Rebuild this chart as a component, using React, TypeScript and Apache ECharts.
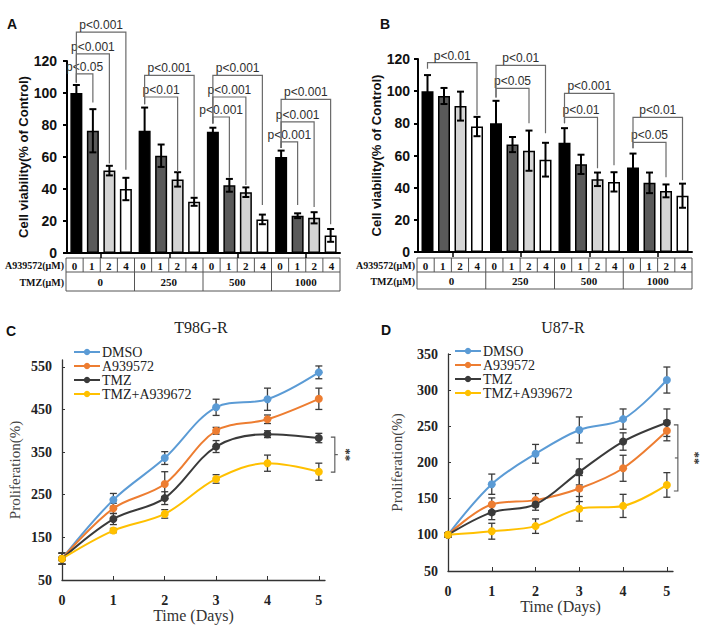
import React, { useEffect, useRef } from "react";
import * as echarts from "echarts";

// ---------- Data ----------
const tmzGroups = ["0", "250", "500", "1000"];
const a9Doses = ["0", "1", "2", "4"];
const barColors = ["#000000", "#5a5a5a", "#d4d4d4", "#ffffff"];

// Panel A (per A939572 dose, across TMZ groups)
const aDose0 = [100, 76.4, 75.8, 60];
const aDose1 = [76.4, 60.8, 42.3, 23.3];
const aDose2 = [51.5, 46, 38, 22];
const aDose4 = [40, 32, 21, 11];
const aErr0 = [5, 14.5, 2.5, 4];
const aErr1 = [13.5, 7, 4, 1.5];
const aErr2 = [3, 4.5, 3, 3.5];
const aErr4 = [7, 2.5, 3, 4];

// Panel B
const bDose0 = [100, 80, 68, 52.5];
const bDose1 = [97, 66.8, 54.5, 43];
const bDose2 = [90.7, 63, 45.2, 38];
const bDose4 = [78, 57.4, 43.6, 35];
const bErr0 = [10, 14, 9, 8.7];
const bErr1 = [5, 4.7, 6, 6.4];
const bErr2 = [9, 12.5, 4.2, 4];
const bErr4 = [6, 10.5, 6, 7.5];

// Significance brackets: [group, rightBar, bracketValue, leftLegBottom, rightLegBottom]
const aBrackets = [
  [0, 1, 112, 106.5, 94],
  [0, 2, 124.4, 106.5, 56],
  [0, 3, 138, 106.5, 52],
  [1, 2, 97.5, 93, 50.6],
  [1, 3, 111, 93, 35],
  [2, 1, 85, 81, 47],
  [2, 2, 97.5, 81, 42.5],
  [2, 3, 111, 81, 30],
  [3, 1, 69.4, 65.6, 30],
  [3, 2, 82, 65.6, 28.7],
  [3, 3, 96, 65.6, 18],
];
const aBracketLabels = ["p<0.05", "p<0.001", "p<0.001", "p<0.01", "p<0.001", "p<0.001", "p<0.001", "p<0.001", "p<0.001", "p<0.001", "p<0.001"];
const bBrackets = [
  [0, 3, 117.8, 114, 85],
  [1, 2, 101.7, 96, 80],
  [1, 3, 116, 96, 73.8],
  [2, 2, 83.7, 80, 52],
  [2, 3, 98.6, 80, 54],
  [3, 2, 68.2, 64.5, 46.5],
  [3, 3, 83.7, 64.5, 44.6],
];
const bBracketLabels = ["p<0.01", "p<0.05", "p<0.01", "p<0.01", "p<0.001", "p<0.05", "p<0.01"];

// Proliferation curves
const days = [0, 1, 2, 3, 4, 5];
const lineNames = ["DMSO", "A939572", "TMZ", "TMZ+A939672"];
const lineColors = ["#5B9BD5", "#ED7D31", "#3a3a3a", "#FFC000"];

const cDmso = [100, 238, 336, 455, 474, 537];
const cA939 = [100, 218, 275, 400, 427, 475];
const cTmz = [100, 193, 242, 363, 392, 383];
const cCombo = [100, 166, 205, 287, 324, 304];
const cDmsoErr = [13, 15, 15, 19, 26, 15];
const cA939Err = [13, 12, 29, 8, 10, 25];
const cTmzErr = [13, 13, 15, 14, 8, 11];
const cComboErr = [13, 5, 10, 10, 19, 20];

const dDmso = [100, 170, 212, 245, 260, 314];
const dA939 = [100, 142, 148, 164, 192, 244];
const dTmz = [100, 131, 142, 187, 229, 255];
const dCombo = [100, 105, 112, 136, 140, 169];
const dDmsoErr = [3, 14, 13, 18, 14, 18];
const dA939Err = [3, 9, 9, 18, 18, 14];
const dTmzErr = [3, 10, 8, 18, 12, 19];
const dComboErr = [3, 11, 10, 17, 16, 17];

// significance at day 5: [day, top, bottom]
const cSig = [[5, 385, 303]];
const dSig = [[5, 252, 160.6]];

const yTicksBar = [0, 20, 40, 60, 80, 100, 120];
const yTicksC = [50, 150, 250, 350, 450, 550];
const yTicksD = [50, 100, 150, 200, 250, 300, 350];

// ---------- Layout ----------
const gA = { left: 67, top: 61, width: 273, height: 192 };
const gB = { left: 418, top: 59, width: 274, height: 193 };
const gC = { left: 62, top: 360, width: 263, height: 220 };
const gD = { left: 448, top: 354, width: 225, height: 217 };

const SANS = '"Liberation Sans", Arial, Helvetica, sans-serif';
const SERIF = '"Liberation Serif", "Times New Roman", serif';
const BAR_W = 12;
const BAR_STEP = 16.5;

function barErrRender(params: any, api: any) {
  const cat = api.value(0), bi = api.value(1), v = api.value(2), e = api.value(3);
  const c = api.coord([cat, v]);
  const x = c[0] + (bi - 1.5) * BAR_STEP;
  const yT = api.coord([cat, v + e])[1];
  const yB = api.coord([cat, v - e])[1];
  const cw = 3.5;
  const st = { stroke: "#000", lineWidth: 2 };
  return {
    type: "group",
    children: [
      { type: "line", shape: { x1: x, y1: yT, x2: x, y2: yB }, style: st },
      { type: "line", shape: { x1: x - cw, y1: yT, x2: x + cw, y2: yT }, style: st },
      { type: "line", shape: { x1: x - cw, y1: yB, x2: x + cw, y2: yB }, style: st },
    ],
  };
}

function bracketRender(labels: string[]) {
  return (params: any, api: any) => {
    const cat = api.value(0), rb = api.value(1), yb = api.value(2), lb = api.value(3), rbot = api.value(4);
    const c = api.coord([cat, yb]);
    const xl = c[0] - 1.5 * BAR_STEP;
    const xr = c[0] + (rb - 1.5) * BAR_STEP;
    const yL = api.coord([cat, lb])[1];
    const yR = api.coord([cat, rbot])[1];
    return {
      type: "group",
      children: [
        {
          type: "polyline",
          shape: { points: [[xl, yL], [xl, c[1]], [xr, c[1]], [xr, yR]] },
          style: { stroke: "#6a6a6a", lineWidth: 1.2, fill: null },
        },
        {
          type: "text",
          x: (xl + xr) / 2,
          y: c[1] - 1,
          style: { text: labels[params.dataIndex], fill: "#2e2e2e", font: `12px ${SANS}`, align: "center", verticalAlign: "bottom" },
        },
      ],
    };
  };
}

function lineErrRender(params: any, api: any) {
  const x = api.value(0), v = api.value(1), e = api.value(2);
  const p1 = api.coord([x, v + e]);
  const p2 = api.coord([x, v - e]);
  const cw = 3.5;
  const st = { stroke: "#3a3a3a", lineWidth: 1.3 };
  return {
    type: "group",
    children: [
      { type: "line", shape: { x1: p1[0], y1: p1[1], x2: p2[0], y2: p2[1] }, style: st },
      { type: "line", shape: { x1: p1[0] - cw, y1: p1[1], x2: p1[0] + cw, y2: p1[1] }, style: st },
      { type: "line", shape: { x1: p2[0] - cw, y1: p2[1], x2: p2[0] + cw, y2: p2[1] }, style: st },
    ],
  };
}

function sigRender(offset: number, textOffset: number, midDir: number) {
  return (params: any, api: any) => {
    const d = api.value(0), top = api.value(1), bot = api.value(2);
    const p = api.coord([d, top]);
    const q = api.coord([d, bot]);
    const x = p[0] + offset;
    const mid = (p[1] + q[1]) / 2;
    const st = { stroke: "#555", lineWidth: 1.1, fill: null };
    return {
      type: "group",
      children: [
        { type: "polyline", shape: { points: [[x - 4, p[1]], [x, p[1]], [x, q[1]], [x - 4, q[1]]] }, style: st },
        { type: "line", shape: { x1: x, y1: mid, x2: x + 3 * midDir, y2: mid }, style: st },
        {
          type: "text",
          x: p[0] + textOffset,
          y: mid,
          rotation: -Math.PI / 2,
          style: { text: "**", fill: "#333", font: `bold 13px ${SERIF}`, align: "center", verticalAlign: "middle" },
        },
      ],
    };
  };
}

function tableGraphics(g: { left: number; width: number }, top: number, h1: number, h2: number) {
  const els: any[] = [];
  const left = g.left - 1;
  const width = g.width + 1;
  const cw = width / 16;
  const st = { stroke: "#555", lineWidth: 1, fill: "none" };
  els.push({ type: "rect", shape: { x: left, y: top, width, height: h1 + h2 }, style: { ...st, fill: "#fff" } });
  els.push({ type: "line", shape: { x1: left, y1: top + h1, x2: left + width, y2: top + h1 }, style: st });
  for (let i = 1; i < 16; i++) {
    const x = left + i * cw;
    const y2 = i % 4 === 0 ? top + h1 + h2 : top + h1;
    els.push({ type: "line", shape: { x1: x, y1: top, x2: x, y2 }, style: st });
  }
  for (let i = 0; i < 16; i++) {
    els.push({
      type: "text",
      x: left + (i + 0.5) * cw,
      y: top + h1 / 2 + 0.5,
      style: { text: a9Doses[i % 4], fill: "#111", font: `bold 11px ${SERIF}`, align: "center", verticalAlign: "middle" },
    });
  }
  for (let j = 0; j < 4; j++) {
    els.push({
      type: "text",
      x: left + (j * 4 + 2) * cw,
      y: top + h1 + h2 / 2 + 0.5,
      style: { text: tmzGroups[j], fill: "#111", font: `bold 11px ${SERIF}`, align: "center", verticalAlign: "middle" },
    });
  }
  els.push({
    type: "text",
    x: left - 2,
    y: top + h1 / 2 + 0.5,
    style: { text: "A939572(μM)", fill: "#111", font: `bold 10px ${SERIF}`, align: "right", verticalAlign: "middle" },
  });
  els.push({
    type: "text",
    x: left - 2,
    y: top + h1 + h2 / 2 + 0.5,
    style: { text: "TMZ(μM)", fill: "#111", font: `bold 10px ${SERIF}`, align: "right", verticalAlign: "middle" },
  });
  return els;
}

function barYAxis(gridIndex: number, margin: number, nameGap: number) {
  return {
    type: "value",
    gridIndex,
    min: 0,
    max: 120,
    interval: 20,
    name: "Cell viability(% of Control)",
    nameLocation: "middle",
    nameGap,
    nameTextStyle: { fontFamily: SANS, fontWeight: "bold", fontSize: 13, color: "#111" },
    axisLine: { show: true, lineStyle: { color: "#000", width: 2 } },
    axisTick: { show: true, inside: false, length: 4, lineStyle: { color: "#000", width: 2 } },
    axisLabel: { show: true, margin, fontFamily: SANS, fontWeight: "bold", fontSize: 14, color: "#111", customValues: yTicksBar },
    splitLine: { show: false },
  };
}

function barXAxis(gridIndex: number) {
  return {
    type: "category",
    gridIndex,
    data: tmzGroups,
    axisLine: { show: true, lineStyle: { color: "#000", width: 2 } },
    axisTick: { show: true, alignWithLabel: true, length: 5, lineStyle: { color: "#000", width: 1.5 } },
    axisLabel: { show: false },
    splitLine: { show: false },
  };
}

function lineXAxis(gridIndex: number, max: number, nameGap: number) {
  return {
    type: "value",
    gridIndex,
    min: 0,
    max,
    interval: 1,
    name: "Time (Days)",
    nameLocation: "middle",
    nameGap,
    nameTextStyle: { fontFamily: SERIF, fontSize: 16, color: "#333" },
    axisLine: { show: true, lineStyle: { color: "#333", width: 1.3 } },
    axisTick: { show: true, inside: true, length: 4, lineStyle: { color: "#333" }, customValues: days },
    axisLabel: { show: true, margin: 13, fontFamily: SERIF, fontWeight: "bold", fontSize: 14, color: "#222", customValues: days },
    splitLine: { show: false },
  };
}

function lineYAxis(gridIndex: number, min: number, max: number, ticks: number[], nameGap: number) {
  return {
    type: "value",
    gridIndex,
    min,
    max,
    name: "Proliferation(%)",
    nameLocation: "middle",
    nameGap,
    nameTextStyle: { fontFamily: SERIF, fontSize: 15, color: "#444" },
    axisLine: { show: true, lineStyle: { color: "#333", width: 1.3 } },
    axisTick: { show: true, inside: true, length: 3, lineStyle: { color: "#333" }, customValues: ticks },
    axisLabel: { show: true, margin: 10, fontFamily: SERIF, fontWeight: "bold", fontSize: 14, color: "#222", customValues: ticks },
    splitLine: { show: false },
  };
}

export default function App() {
  const ref = useRef<HTMLDivElement>(null);
  useEffect(() => {
    if (!ref.current) return;
    const chart = echarts.init(ref.current, undefined, { renderer: "svg" });

    const aVals = [aDose0, aDose1, aDose2, aDose4];
    const aErrs = [aErr0, aErr1, aErr2, aErr4];
    const bVals = [bDose0, bDose1, bDose2, bDose4];
    const bErrs = [bErr0, bErr1, bErr2, bErr4];

    const barSeries = (vals: number[][], idx: number) =>
      vals.map((v, i) => ({
        type: "bar",
        name: a9Doses[i],
        xAxisIndex: idx,
        yAxisIndex: idx,
        data: v,
        barWidth: BAR_W,
        barGap: `${((BAR_STEP - BAR_W) / BAR_W) * 100}%`,
        itemStyle: { color: barColors[i], borderColor: "#000", borderWidth: 1.5 },
        z: 2,
      }));

    const errData = (vals: number[][], errs: number[][]) => {
      const out: number[][] = [];
      vals.forEach((v, i) => v.forEach((val, g) => out.push([g, i, val, errs[i][g]])));
      return out;
    };

    const cVals = [cDmso, cA939, cTmz, cCombo];
    const cErrs = [cDmsoErr, cA939Err, cTmzErr, cComboErr];
    const dVals = [dDmso, dA939, dTmz, dCombo];
    const dErrs = [dDmsoErr, dA939Err, dTmzErr, dComboErr];

    const lineSeries = (vals: number[][], idx: number) =>
      vals.map((v, i) => ({
        type: "line",
        name: lineNames[i],
        xAxisIndex: idx,
        yAxisIndex: idx,
        data: v.map((y, k) => [days[k], y]),
        smooth: 0.35,
        symbol: "circle",
        symbolSize: 8,
        showSymbol: true,
        lineStyle: { color: lineColors[i], width: 2 },
        itemStyle: { color: lineColors[i] },
        z: 3,
      }));

    const lineErrData = (vals: number[][], errs: number[][]) => {
      const out: number[][] = [];
      vals.forEach((v, i) => v.forEach((y, k) => out.push([days[k], y, errs[i][k]])));
      return out;
    };

    const graphic: any[] = [
      { type: "text", x: 7, y: 17, style: { text: "A", font: `bold 14px ${SANS}`, fill: "#111" } },
      { type: "text", x: 380, y: 17, style: { text: "B", font: `bold 14px ${SANS}`, fill: "#111" } },
      { type: "text", x: 6, y: 324, style: { text: "C", font: `bold 14px ${SANS}`, fill: "#111" } },
      { type: "text", x: 381, y: 323, style: { text: "D", font: `bold 14px ${SANS}`, fill: "#111" } },
      { type: "text", x: 201, y: 327, style: { text: "T98G-R", font: `16px ${SERIF}`, fill: "#222", align: "center", verticalAlign: "middle" } },
      { type: "text", x: 563, y: 327, style: { text: "U87-R", font: `16px ${SERIF}`, fill: "#222", align: "center", verticalAlign: "middle" } },
      ...tableGraphics(gA, 258, 14, 19),
      ...tableGraphics(gB, 258, 14, 17),
    ];

    const legendBase = {
      orient: "vertical",
      itemWidth: 26,
      itemHeight: 8,
      itemGap: 0,
      data: lineNames,
      selectedMode: false,
      textStyle: { fontFamily: SERIF, fontSize: 14, color: "#222", padding: [0, 0, 0, -3] },
    };

    chart.setOption({
      animation: false,
      backgroundColor: "#fff",
      grid: [
        { ...gA, containLabel: false },
        { ...gB, containLabel: false },
        { ...gC, containLabel: false },
        { ...gD, containLabel: false },
      ],
      xAxis: [barXAxis(0), barXAxis(1), lineXAxis(2, 5.12, 26), lineXAxis(3, 5.14, 27)],
      yAxis: [
        barYAxis(0, 10, 35),
        barYAxis(1, 8, 34),
        lineYAxis(2, 50, 566, yTicksC, 40),
        lineYAxis(3, 50, 350, yTicksD, 44),
      ],
      legend: [
        { ...legendBase, left: 68, top: 340 },
        { ...legendBase, left: 449, top: 339 },
      ],
      series: [
        ...barSeries(aVals, 0),
        ...barSeries(bVals, 1),
        {
          type: "custom",
          xAxisIndex: 0,
          yAxisIndex: 0,
          data: errData(aVals, aErrs),
          renderItem: barErrRender,
          encode: { x: 0, y: 2 },
          z: 4,
          silent: true,
        },
        {
          type: "custom",
          xAxisIndex: 1,
          yAxisIndex: 1,
          data: errData(bVals, bErrs),
          renderItem: barErrRender,
          encode: { x: 0, y: 2 },
          z: 4,
          silent: true,
        },
        {
          type: "custom",
          xAxisIndex: 0,
          yAxisIndex: 0,
          data: aBrackets,
          renderItem: bracketRender(aBracketLabels),
          encode: { x: 0, y: 2 },
          z: 5,
          clip: false,
          silent: true,
        },
        {
          type: "custom",
          xAxisIndex: 1,
          yAxisIndex: 1,
          data: bBrackets,
          renderItem: bracketRender(bBracketLabels),
          encode: { x: 0, y: 2 },
          z: 5,
          clip: false,
          silent: true,
        },
        {
          type: "custom",
          xAxisIndex: 2,
          yAxisIndex: 2,
          data: lineErrData(cVals, cErrs),
          renderItem: lineErrRender,
          encode: { x: 0, y: 1 },
          z: 2,
          silent: true,
        },
        {
          type: "custom",
          xAxisIndex: 3,
          yAxisIndex: 3,
          data: lineErrData(dVals, dErrs),
          renderItem: lineErrRender,
          encode: { x: 0, y: 1 },
          z: 2,
          silent: true,
        },
        ...lineSeries(cVals, 2),
        ...lineSeries(dVals, 3),
        {
          type: "custom",
          xAxisIndex: 2,
          yAxisIndex: 2,
          data: cSig,
          renderItem: sigRender(16, 28, 1),
          encode: { x: 0, y: 1 },
          clip: false,
          silent: true,
        },
        {
          type: "custom",
          xAxisIndex: 3,
          yAxisIndex: 3,
          data: dSig,
          renderItem: sigRender(11, 29, -1),
          encode: { x: 0, y: 1 },
          clip: false,
          silent: true,
        },
      ],
      graphic,
    });
    return () => chart.dispose();
  }, []);
  return (
    <div
      ref={ref}
      style={{ position: "absolute", left: 0, top: 0, width: 705, height: 627, background: "#fff" }}
    />
  );
}
